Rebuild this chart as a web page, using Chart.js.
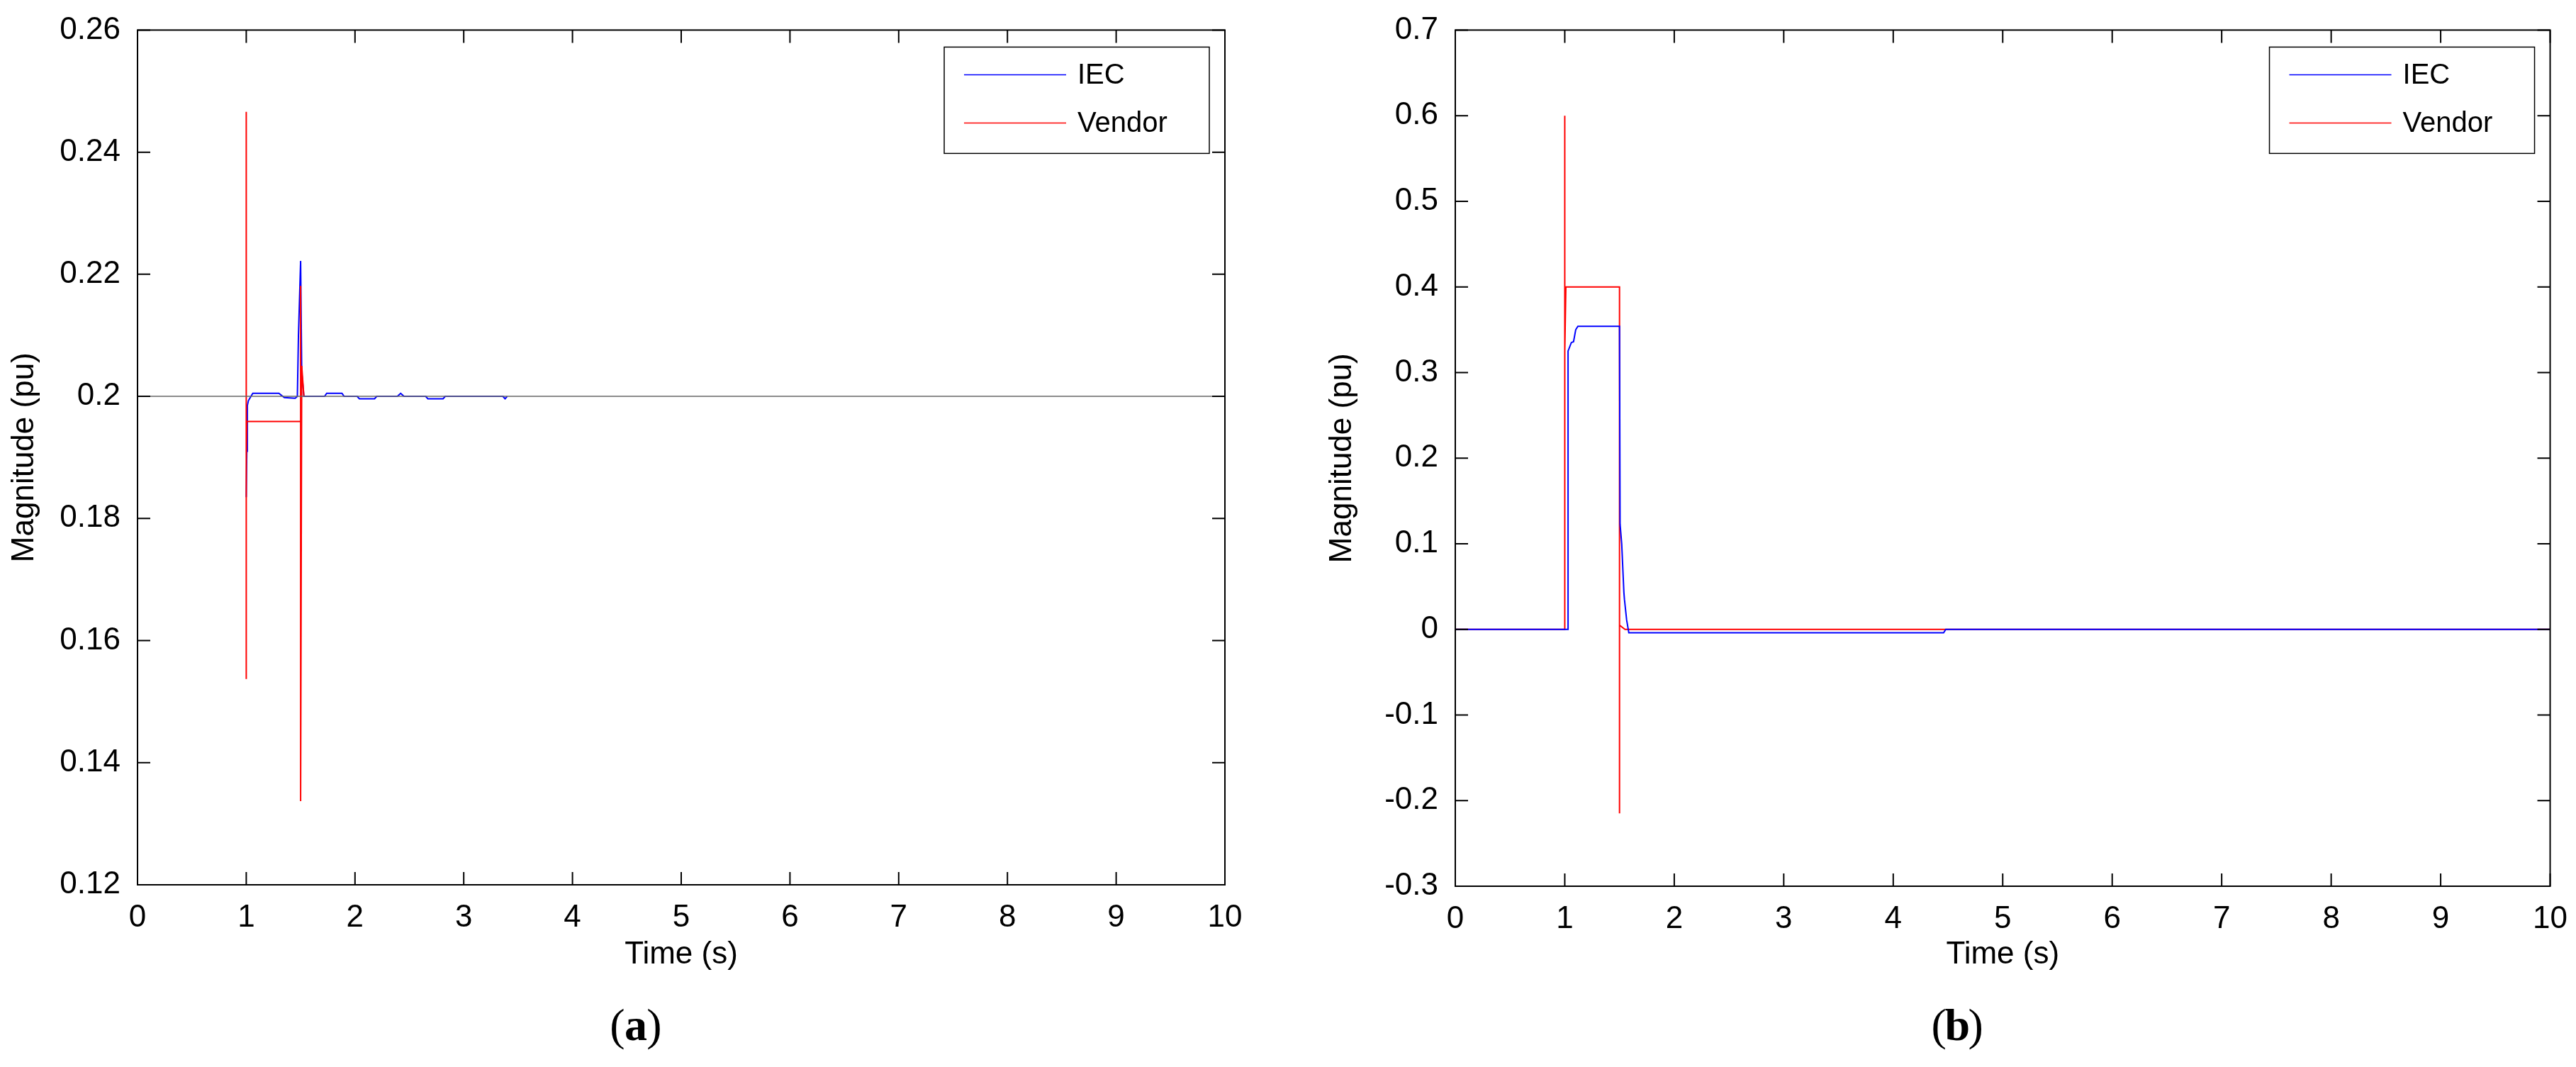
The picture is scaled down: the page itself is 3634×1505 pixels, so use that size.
<!DOCTYPE html>
<html>
<head>
<meta charset="utf-8">
<script src="https://cdn.jsdelivr.net/npm/chart.js@4"></script>
<style>
  html, body { margin: 0; background: #fff; }
  .panel { position: absolute; top: 0; height: 1505px; }
</style>
</head>
<body>
<div class="panel" style="left:0;width:1817px"><canvas id="chartA"></canvas></div>
<div class="panel" style="left:1817px;width:1817px"><canvas id="chartB"></canvas></div>
<script>
// panel (a)
const timeA_iec = [1.0, 1.005, 1.01, 1.02, 1.06, 1.1, 1.3, 1.35, 1.45, 1.47, 1.48, 1.5, 1.51, 1.53, 1.72, 1.74, 1.88, 1.9, 2.02, 2.04, 2.18, 2.2, 2.39, 2.42, 2.45, 2.65, 2.67, 2.81, 2.83, 3.36, 3.38, 3.4];
const magA_iec  = [0.1835, 0.191, 0.1985, 0.1993, 0.2005, 0.2005, 0.2005, 0.1998, 0.1997, 0.2, 0.21, 0.2222, 0.204, 0.2, 0.2, 0.2005, 0.2005, 0.2, 0.2, 0.1996, 0.1996, 0.2, 0.2, 0.2005, 0.2, 0.2, 0.1996, 0.1996, 0.2, 0.2, 0.1996, 0.2];
const timeA_vendor = [1.0, 1.0, 1.0, 1.0, 1.005, 1.5, 1.5, 1.5, 1.51, 1.53];
const magA_vendor  = [0.2, 0.2466, 0.1537, 0.19, 0.1959, 0.1959, 0.2181, 0.1337, 0.205, 0.2];
const timeA_ref = [0, 10];
const magA_ref  = [0.2, 0.2];

// panel (b)
const timeB_iec = [0, 1.03, 1.03, 1.06, 1.08, 1.1, 1.12, 1.5, 1.505, 1.52, 1.54, 1.545, 1.565, 1.585, 4.46, 4.48, 10];
const magB_iec  = [0, 0, 0.325, 0.335, 0.336, 0.35, 0.354, 0.354, 0.123, 0.1, 0.043, 0.035, 0.011, -0.004, -0.004, 0, 0];
const timeB_vendor = [0, 1.0, 1.0, 1.0, 1.01, 1.5, 1.5, 1.5, 1.55, 10];
const magB_vendor  = [0, 0, 0.6, 0.325, 0.4, 0.4, -0.215, 0.005, 0, 0];

const xTicks = [0, 1, 2, 3, 4, 5, 6, 7, 8, 9, 10];
const yTicksA = [0.12, 0.14, 0.16, 0.18, 0.2, 0.22, 0.24, 0.26];
const yTicksB = [-0.3, -0.2, -0.1, 0, 0.1, 0.2, 0.3, 0.4, 0.5, 0.6, 0.7];

const pts = (xs, ys) => xs.map((x, i) => ({ x, y: ys[i] }));
const FONT = "'Liberation Sans', Arial, sans-serif";
const SERIF = "'Liberation Serif', 'DejaVu Serif', serif";

const frame = {
  id: "frame",
  afterDraw(chart, args, o) {
    const { ctx, chartArea: a, scales } = chart;
    ctx.save();
    ctx.strokeStyle = "#000";
    ctx.lineWidth = 2;
    ctx.strokeRect(a.left, a.top, a.right - a.left, a.bottom - a.top);
    ctx.beginPath();
    o.xt.forEach(v => {
      const px = scales.x.getPixelForValue(v);
      ctx.moveTo(px, a.bottom); ctx.lineTo(px, a.bottom - 18);
      ctx.moveTo(px, a.top); ctx.lineTo(px, a.top + 18);
    });
    o.yt.forEach(v => {
      const py = scales.y.getPixelForValue(v);
      ctx.moveTo(a.left, py); ctx.lineTo(a.left + 18, py);
      ctx.moveTo(a.right, py); ctx.lineTo(a.right - 18, py);
    });
    ctx.stroke();

    // legend box
    const bx = a.right - 22 - 374, by = a.top + 24;
    ctx.fillStyle = "#fff";
    ctx.fillRect(bx, by, 374, 150);
    ctx.lineWidth = 1.5;
    ctx.strokeRect(bx, by, 374, 150);
    [["IEC", "#0000ff", 39], ["Vendor", "#ff0000", 107]].forEach(([t, c, dy]) => {
      ctx.strokeStyle = c;
      ctx.beginPath(); ctx.moveTo(bx + 28, by + dy); ctx.lineTo(bx + 172, by + dy); ctx.stroke();
      ctx.fillStyle = "#000";
      ctx.font = `40px ${FONT}`;
      ctx.textBaseline = "middle";
      ctx.textAlign = "left";
      ctx.fillText(t, bx + 188, by + dy + 2);
    });

    // titles
    ctx.fillStyle = "#000";
    ctx.textAlign = "center";
    ctx.font = `44px ${FONT}`;
    ctx.fillText("Time (s)", (a.left + a.right) / 2, 1347);
    ctx.save();
    ctx.translate(a.left - 159, (a.top + a.bottom) / 2);
    ctx.rotate(-Math.PI / 2);
    ctx.fillText("Magnitude (pu)", 0, 0);
    ctx.restore();
    const cx = (a.left + a.right) / 2 - 64;
    ctx.font = `64px ${SERIF}`;
    ctx.fillText("(", cx - 26, 1450);
    ctx.fillText(")", cx + 26, 1450);
    ctx.font = `bold 64px ${SERIF}`;
    ctx.fillText(o.tag, cx, 1450);
    ctx.restore();
  }
};

function makeChart(id, datasets, yMin, yMax, yStep, yTicks, pad, yWidth, tag) {
  return new Chart(document.getElementById(id), {
    type: "line",
    data: { datasets },
    plugins: [frame],
    options: {
      responsive: true,
      maintainAspectRatio: false,
      animation: false,
      layout: { padding: pad },
      elements: { point: { radius: 0 }, line: { tension: 0, borderWidth: 2 } },
      plugins: {
        legend: { display: false },
        tooltip: { enabled: false },
        frame: { xt: xTicks, yt: yTicks, tag }
      },
      scales: {
        x: {
          type: "linear", min: 0, max: 10,
          ticks: { stepSize: 1, padding: 12, color: "#000", font: { size: 44, family: FONT } },
          grid: { display: false },
          border: { display: false },
          afterFit: s => { s.height = 100; }
        },
        y: {
          min: yMin, max: yMax,
          ticks: {
            stepSize: yStep, padding: 16, color: "#000", font: { size: 44, family: FONT },
            callback: v => String(+v.toFixed(2))
          },
          grid: { display: false },
          border: { display: false },
          afterFit: s => { s.width = yWidth; }
        }
      }
    }
  });
}

makeChart("chartA", [
  { label: "ref", data: pts(timeA_ref, magA_ref), borderColor: "#666", borderWidth: 1.5 },
  { label: "Vendor", data: pts(timeA_vendor, magA_vendor), borderColor: "#ff0000" },
  { label: "IEC", data: pts(timeA_iec, magA_iec), borderColor: "#0000ff" }
], 0.12, 0.26, 0.02, yTicksA, { top: 39, right: 89, bottom: 157, left: 0 }, 194, "a");

makeChart("chartB", [
  { label: "IEC", data: pts(timeB_iec, magB_iec), borderColor: "#0000ff" },
  { label: "Vendor", data: pts(timeB_vendor, magB_vendor), borderColor: "#ff0000" }
], -0.3, 0.7, 0.1, yTicksB, { top: 34, right: 36, bottom: 155, left: 0 }, 236, "b");
</script>
</body>
</html>
